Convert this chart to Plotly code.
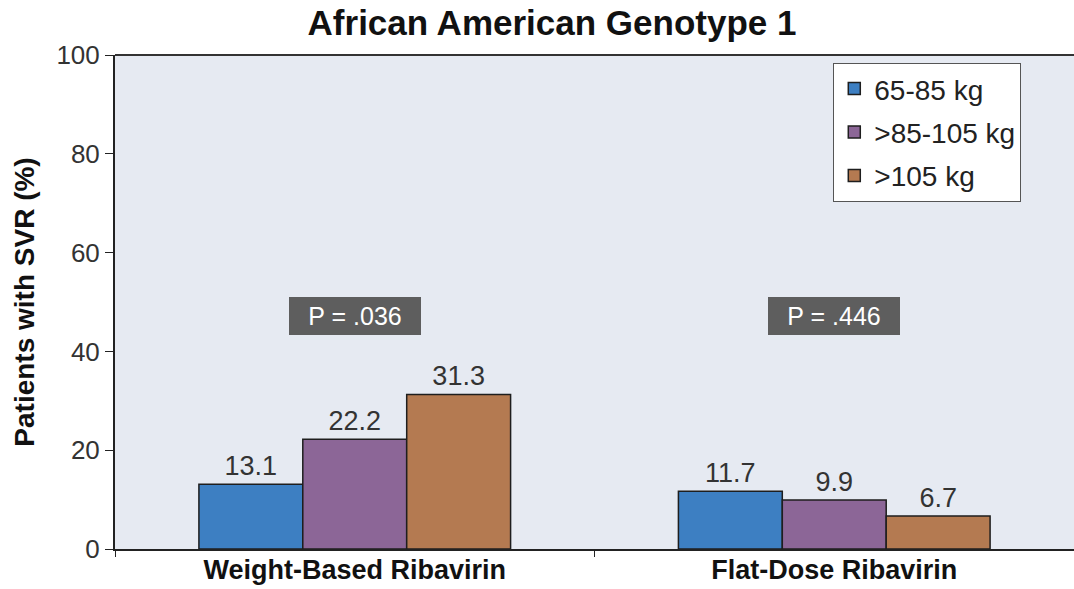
import plotly.graph_objects as go

categories = ["Weight-Based Ribavirin", "Flat-Dose Ribavirin"]
series_names = ["65-85 kg", ">85-105 kg", ">105 kg"]
values_65_85 = [13.1, 11.7]
values_85_105 = [22.2, 9.9]
values_105 = [31.3, 6.7]
p_labels = ["P = .036", "P = .446"]
y_ticks = [0, 20, 40, 60, 80, 100]

colors = ["#3D7FC2", "#8C6697", "#B47A51"]
series_values = [values_65_85, values_85_105, values_105]

FONT = "Liberation Sans"

fig = go.Figure()
for i, (name, vals, col) in enumerate(zip(series_names, series_values, colors)):
    fig.add_trace(go.Bar(
        x=categories, y=vals, name=name, legendgroup=f"g{i}",
        marker=dict(color=col, line=dict(color="#1e1e1e", width=1.5)),
        text=[f"{v:.1f}" for v in vals], textposition="outside",
        textfont=dict(size=27, color="#333333", family=FONT),
        cliponaxis=False,
    ))

for cat, lab in zip(categories, p_labels):
    fig.add_annotation(
        x=cat, y=47.2, xref="x", yref="y", text=lab, showarrow=False,
        font=dict(size=25, color="white", family=FONT),
        bgcolor="#5E5E5E", bordercolor="#5E5E5E", borderpad=3, borderwidth=1,
        width=124, height=30,
    )

fig.update_layout(
    width=1074, height=589,
    margin=dict(l=115, r=0, t=55, b=40),
    paper_bgcolor="white", plot_bgcolor="#E6EAF2",
    barmode="group", bargap=0.35, bargroupgap=0.0,
    title=dict(text="<b>African American Genotype 1</b>", x=0.514, xanchor="center",
               y=0.961, yanchor="middle",
               font=dict(size=35, color="#111111", family=FONT)),
    font=dict(family=FONT, color="#333333"),
    legend=dict(x=0.749, y=0.984, xanchor="left", yanchor="top",
                bgcolor="white", bordercolor="#555555", borderwidth=1,
                font=dict(size=28, color="#222222", family=FONT),
                itemwidth=30, tracegroupgap=4),
    showlegend=True,
)
fig.update_yaxes(
    range=[0, 100], tickvals=y_ticks, showgrid=False, zeroline=False,
    showline=True, linecolor="#222222", linewidth=2,
    ticks="outside", ticklen=8, tickcolor="#222222",
    tickfont=dict(size=26, color="#333333", family=FONT),
    title=dict(text="<b>Patients with SVR (%)</b>", font=dict(size=28, color="#111111", family=FONT), standoff=14),
    automargin=False,
)
fig.update_xaxes(
    showline=True, linecolor="#222222", linewidth=2,
    tickfont=dict(size=27, color="#111111", family=FONT),
    tickprefix="<b>", ticksuffix="</b>",
    ticks="outside", tickson="boundaries", ticklen=6, tickcolor="#222222",
    ticklabelstandoff=-4,
    showgrid=False, automargin=False,
)
fig.add_shape(type="line", xref="paper", yref="paper", x0=0, x1=1, y0=1, y1=1,
              line=dict(color="#333333", width=2))
fig.write_html("out.html", config={"displayModeBar": False},
               post_script="document.body.style.margin='0';")
